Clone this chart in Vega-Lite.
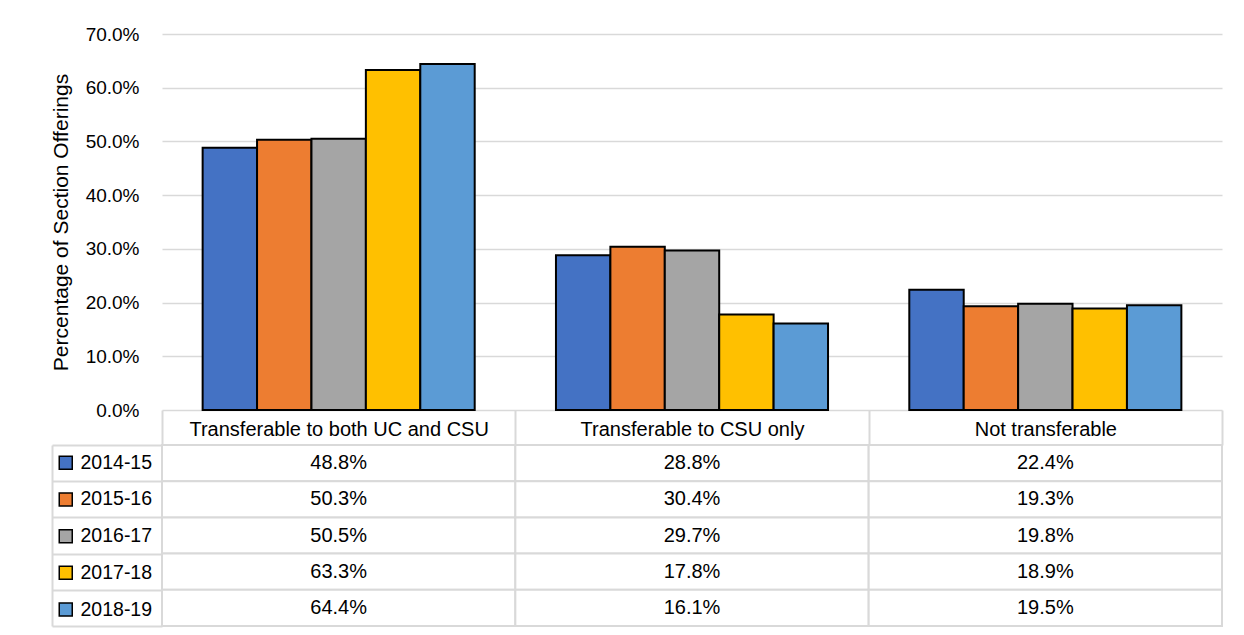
{
  "$schema": "https://vega.github.io/schema/vega-lite/v6.json",
  "padding": {"left": 50, "top": 25, "right": 10, "bottom": 5},
  "background": "white",
  "config": {"view": {"stroke": null}, "font": "Liberation Sans"},
  "spacing": 35,
  "bounds": "flush",
  "datasets": {
    "values": [
      {"category": "Transferable to both UC and CSU", "year": "2014-15", "value": 0.488},
      {"category": "Transferable to both UC and CSU", "year": "2015-16", "value": 0.503},
      {"category": "Transferable to both UC and CSU", "year": "2016-17", "value": 0.505},
      {"category": "Transferable to both UC and CSU", "year": "2017-18", "value": 0.633},
      {"category": "Transferable to both UC and CSU", "year": "2018-19", "value": 0.644},
      {"category": "Transferable to CSU only", "year": "2014-15", "value": 0.288},
      {"category": "Transferable to CSU only", "year": "2015-16", "value": 0.304},
      {"category": "Transferable to CSU only", "year": "2016-17", "value": 0.297},
      {"category": "Transferable to CSU only", "year": "2017-18", "value": 0.178},
      {"category": "Transferable to CSU only", "year": "2018-19", "value": 0.161},
      {"category": "Not transferable", "year": "2014-15", "value": 0.224},
      {"category": "Not transferable", "year": "2015-16", "value": 0.193},
      {"category": "Not transferable", "year": "2016-17", "value": 0.198},
      {"category": "Not transferable", "year": "2017-18", "value": 0.189},
      {"category": "Not transferable", "year": "2018-19", "value": 0.195}
    ]
  },
  "vconcat": [
    {
      "width": 1060,
      "height": 376,
      "data": {"name": "values"},
      "mark": {"type": "bar", "stroke": "black", "strokeWidth": 2},
      "encoding": {
        "x": {
          "field": "category", "type": "nominal",
          "sort": ["Transferable to both UC and CSU", "Transferable to CSU only", "Not transferable"],
          "scale": {"paddingInner": 0.23, "paddingOuter": 0.115},
          "axis": null
        },
        "xOffset": {
          "field": "year", "type": "nominal",
          "sort": ["2014-15", "2015-16", "2016-17", "2017-18", "2018-19"],
          "scale": {"paddingInner": 0, "paddingOuter": 0}
        },
        "y": {
          "field": "value", "type": "quantitative",
          "scale": {"domain": [0, 0.7], "nice": false},
          "axis": {
            "values": [0, 0.1, 0.2, 0.3, 0.4, 0.5, 0.6, 0.7],
            "format": ".1%",
            "grid": true, "gridColor": "#d9d9d9", "gridWidth": 1.5,
            "domain": false, "ticks": false,
            "labelFontSize": 19, "labelFont": "Liberation Sans", "labelColor": "black", "labelPadding": 23,
            "title": "Percentage of Section Offerings",
            "titleFontSize": 21, "titleFont": "Liberation Sans", "titleFontWeight": "normal", "titleColor": "black",
            "titlePadding": 14
          }
        },
        "color": {
          "field": "year", "type": "nominal",
          "scale": {
            "domain": ["2014-15", "2015-16", "2016-17", "2017-18", "2018-19"],
            "range": ["#4472C4", "#ED7D31", "#A5A5A5", "#FFC000", "#5B9BD5"]
          },
          "legend": {
            "orient": "none", "legendX": -106, "legendY": 419,
            "title": null, "symbolType": "square", "symbolSize": 169,
            "symbolStrokeColor": "black", "symbolStrokeWidth": 1.5,
            "labelFontSize": 19.5, "labelFont": "Liberation Sans", "labelColor": "black",
            "rowPadding": 15.7, "labelOffset": 5, "padding": 0
          }
        }
      }
    },
    {
      "width": 1060,
      "height": 181,
      "data": {"name": "values"},
      "encoding": {
        "x": {
          "field": "category", "type": "nominal",
          "sort": ["Transferable to both UC and CSU", "Transferable to CSU only", "Not transferable"],
          "scale": {"paddingInner": 0, "paddingOuter": 0},
          "axis": {
            "orient": "top", "title": null, "domain": false,
            "ticks": true, "tickBand": "extent", "tickSize": 35, "tickColor": "#d9d9d9", "tickWidth": 2,
            "labelFontSize": 20, "labelFont": "Liberation Sans", "labelColor": "black",
            "labelPadding": -19.5, "labelBaseline": "middle", "labelAngle": 0, "labelLimit": 0, "grid": false
          }
        },
        "y": {
          "field": "year", "type": "nominal",
          "sort": ["2014-15", "2015-16", "2016-17", "2017-18", "2018-19"],
          "scale": {"paddingInner": 0, "paddingOuter": 0},
          "axis": {
            "orient": "left", "offset": 110, "title": null, "labels": false,
            "domain": true, "domainColor": "#d9d9d9", "domainWidth": 2,
            "ticks": true, "tickBand": "extent", "tickSize": -110, "tickColor": "#d9d9d9", "tickWidth": 2,
            "grid": false
          }
        }
      },
      "layer": [
        {"mark": {"type": "rect", "fill": "white", "stroke": "#d9d9d9", "strokeWidth": 2}},
        {
          "mark": {"type": "text", "fontSize": 20, "font": "Liberation Sans", "color": "black"},
          "encoding": {"text": {"field": "value", "type": "quantitative", "format": ".1%"}}
        }
      ]
    }
  ]
}
